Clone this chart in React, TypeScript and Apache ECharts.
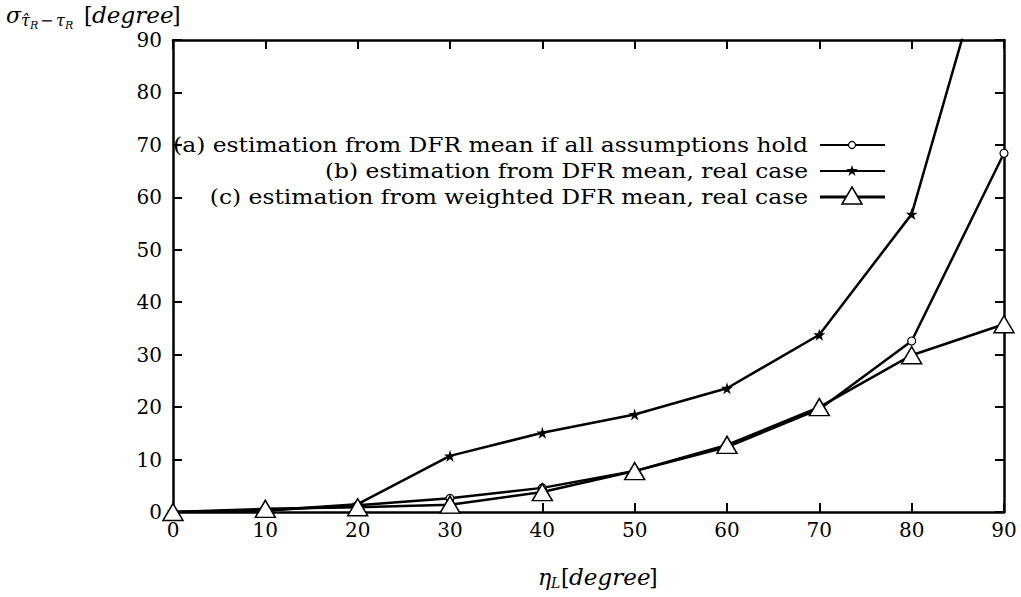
import React, { useEffect, useRef } from "react";
import * as echarts from "echarts";

const xValues = [0, 10, 20, 30, 40, 50, 60, 70, 80, 90];
const seriesA = [0, 0.3, 1.3, 2.6, 4.6, 7.8, 12.4, 19.6, 32.6, 68.4];
const seriesB = [0, 0.3, 1.5, 10.7, 15.1, 18.6, 23.6, 33.8, 56.8, 118];
const seriesC = [0, 0.6, 0.9, 1.4, 3.8, 7.8, 12.8, 20.0, 29.9, 35.8];
const legendNames = [
  "(a) estimation from DFR mean if all assumptions hold",
  "(b) estimation from DFR mean, real case",
  "(c) estimation from weighted DFR mean, real case",
];

const FONT = "DejaVu Serif";
const STAR = "path://M0,-10 L2.2,-3.1 L9.5,-3.1 L3.6,1.2 L5.9,8.1 L0,3.8 L-5.9,8.1 L-3.6,1.2 L-9.5,-3.1 L-2.2,-3.1 Z";

export default function App() {
  const ref = useRef<HTMLDivElement>(null);
  useEffect(() => {
    const chart = echarts.init(ref.current!, undefined, { renderer: "svg" });
    const pairs = (ys: number[]) => xValues.map((x, i) => [x, ys[i]]);
    const axisCommon = {
      type: "value" as const,
      min: 0,
      max: 90,
      interval: 10,
      splitLine: { show: false },
      axisLine: { show: true, onZero: false, lineStyle: { color: "#000", width: 2.5 } },
      axisTick: { show: true, inside: true, length: 9, lineStyle: { color: "#000", width: 2 } },
    };
    const legendY = [145, 171, 197];
    const lx1 = 820, lx2 = 885, lmx = 852;
    const graphics: any[] = [];
    legendNames.forEach((n, i) => {
      graphics.push({
        type: "text", x: 808, y: legendY[i], scaleX: 1.17,
        style: { text: n, font: `20px "${FONT}"`, fill: "#000", align: "right", verticalAlign: "middle" },
      });
      graphics.push({
        type: "line", shape: { x1: lx1, y1: legendY[i], x2: lx2, y2: legendY[i] },
        style: { stroke: "#000", lineWidth: i === 2 ? 3 : 2 },
      });
    });
    graphics.push({ type: "circle", shape: { cx: lmx, cy: legendY[0], r: 3.5 }, style: { fill: "#fff", stroke: "#000", lineWidth: 1.2 } });
    graphics.push({
      type: "polygon",
      shape: { points: [[0, -6], [1.3, -1.9], [5.7, -1.9], [2.2, 0.7], [3.5, 4.9], [0, 2.3], [-3.5, 4.9], [-2.2, 0.7], [-5.7, -1.9], [-1.3, -1.9]].map(([a, b]) => [lmx + a, legendY[1] + b]) },
      style: { fill: "#000" },
    });
    graphics.push({
      type: "polygon",
      shape: { points: [[lmx, legendY[2] - 10], [lmx + 10, legendY[2] + 7], [lmx - 10, legendY[2] + 7]] },
      style: { fill: "#fff", stroke: "#000", lineWidth: 1.5 },
    });
    // y axis name
    const t = (text: string, x: number, y: number, font: string, sx = 1) =>
      graphics.push({ type: "text", x, y, scaleX: sx, style: { text, font, fill: "#000", verticalAlign: "middle" } });
    t("σ", 6, 15, `italic 22px "${FONT}"`);
    t("τ̂", 21, 20, `italic 16px "${FONT}"`);
    t("R", 30, 25, `italic 11px "${FONT}"`);
    t("−", 40, 20, `16px "${FONT}"`);
    t("τ", 56, 20, `italic 16px "${FONT}"`);
    t("R", 65, 25, `italic 11px "${FONT}"`);
    t("[", 84, 15, `22px "${FONT}"`);
    t("degree", 92, 15, `italic 22px "${FONT}"`, 1.05);
    t("]", 172, 15, `22px "${FONT}"`);
    // x axis name
    t("η", 538, 577, `italic 22px "${FONT}"`);
    t("L", 551, 583, `italic 14px "${FONT}"`);
    t("[", 561, 577, `22px "${FONT}"`);
    t("degree", 569, 577, `italic 22px "${FONT}"`, 1.05);
    t("]", 649, 577, `22px "${FONT}"`);

    chart.setOption({
      animation: false,
      backgroundColor: "#fff",
      grid: { left: 173, right: 17, top: 40, bottom: 85, containLabel: false },
      xAxis: [
        { ...axisCommon, position: "bottom", axisLabel: { color: "#000", fontFamily: FONT, fontSize: 20, margin: 8 } },
        { ...axisCommon, position: "top", axisLabel: { show: false } },
      ],
      yAxis: [
        { ...axisCommon, position: "left", axisLabel: { color: "#000", fontFamily: FONT, fontSize: 20, margin: 11 } },
        { ...axisCommon, position: "right", axisLabel: { show: false } },
      ],
      series: [
        {
          type: "line", name: legendNames[0], data: pairs(seriesA), symbol: "circle", symbolSize: 8,
          lineStyle: { color: "#000", width: 2.5 }, itemStyle: { color: "#fff", borderColor: "#000", borderWidth: 1.2 }, z: 3,
        },
        {
          type: "line", name: legendNames[1], data: pairs(seriesB), symbol: STAR, symbolSize: 12,
          lineStyle: { color: "#000", width: 2.5 }, itemStyle: { color: "#000" }, z: 3,
        },
        {
          type: "line", name: legendNames[2], data: pairs(seriesC), symbol: "triangle", symbolSize: [20, 17],
          lineStyle: { color: "#000", width: 2.5 }, itemStyle: { color: "#fff", borderColor: "#000", borderWidth: 1.5 }, z: 4,
        },
      ],
      graphic: graphics,
    });
    return () => chart.dispose();
  }, []);
  return <div ref={ref} style={{ position: "fixed", left: 0, top: 0, width: 1021, height: 597, background: "#fff" }} />;
}
